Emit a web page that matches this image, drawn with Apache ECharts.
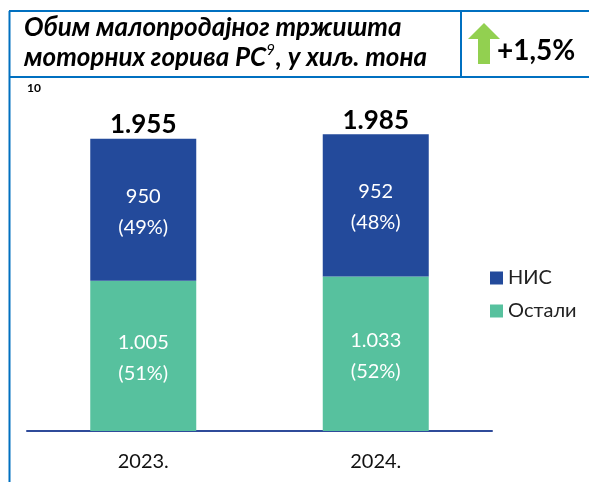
<!DOCTYPE html>
<html>
<head>
<meta charset="utf-8">
<script src="https://cdn.jsdelivr.net/npm/echarts@6/dist/echarts.min.js"></script>
<style>
  html, body { margin: 0; padding: 0; background: #fff; }
  #chart { width: 589px; height: 482px; }
</style>
</head>
<body>
<div id="chart"></div>
<script>
// data
const years = ["2023.", "2024."];
const nis = [950, 952];
const ostali = [1005, 1033];
const nisShare = [49, 48];
const ostaliShare = [51, 52];
const seriesNames = ["НИС", "Остали"];
const change = "+1,5%";

const FONT = "Lato, 'Noto Sans', sans-serif";
const BORDER = "#0070C0";

function fmt(n) {
  return String(n).replace(/\B(?=(\d{3})+(?!\d))/g, ".");
}

const chart = echarts.init(document.getElementById("chart"));

chart.setOption({
  backgroundColor: "#fff",
  animation: false,
  textStyle: { fontFamily: FONT },
  grid: { left: 27, right: 97, top: 102, bottom: 51 },
  legend: {
    data: seriesNames,
    orient: "vertical",
    left: 490,
    top: 268,
    padding: 0,
    itemWidth: 13,
    itemHeight: 13,
    itemGap: 13,
    icon: "rect",
    textStyle: { fontSize: 20, color: "#222", fontFamily: FONT }
  },
  xAxis: {
    type: "category",
    data: years,
    axisTick: { show: false },
    axisLine: { lineStyle: { color: "#2F4B9A", width: 2 } },
    axisLabel: { fontSize: 20, color: "#111", margin: 21, fontFamily: FONT }
  },
  yAxis: {
    type: "value",
    min: 0,
    max: 2200,
    show: false,
    splitLine: { show: false }
  },
  series: [
    {
      name: "Остали",
      type: "bar",
      stack: "total",
      barWidth: 106,
      data: ostali,
      itemStyle: { color: "#57C19E" },
      label: {
        show: true,
        position: "inside",
        color: "#fff",
        fontSize: 20,
        lineHeight: 31,
        fontFamily: FONT,
        offset: [0, 2],
        formatter: p => fmt(p.value) + "\n(" + ostaliShare[p.dataIndex] + "%)"
      }
    },
    {
      name: "НИС",
      type: "bar",
      stack: "total",
      barWidth: 106,
      data: nis,
      itemStyle: { color: "#234A9B" },
      label: {
        show: true,
        position: "inside",
        color: "#fff",
        fontSize: 20,
        lineHeight: 31,
        fontFamily: FONT,
        offset: [0, 2],
        formatter: p => fmt(p.value) + "\n(" + nisShare[p.dataIndex] + "%)"
      }
    },
    {
      // zero-height cap carrying the total above each stack
      name: "total",
      type: "bar",
      stack: "total",
      barWidth: 106,
      data: years.map(() => 0),
      itemStyle: { color: "transparent" },
      label: {
        show: true,
        position: "top",
        distance: 1,
        color: "#000",
        fontSize: 26,
        fontWeight: "bold",
        fontFamily: FONT,
        formatter: p => fmt(nis[p.dataIndex] + ostali[p.dataIndex])
      }
    }
  ],
  graphic: [
    { type: "line", shape: { x1: 9.5, y1: 11, x2: 9.5, y2: 482 }, style: { stroke: BORDER, lineWidth: 2 } },
    { type: "line", shape: { x1: 9, y1: 11, x2: 589, y2: 11 }, style: { stroke: BORDER, lineWidth: 2 } },
    { type: "line", shape: { x1: 9, y1: 77, x2: 589, y2: 77 }, style: { stroke: BORDER, lineWidth: 2 } },
    { type: "line", shape: { x1: 461, y1: 11, x2: 461, y2: 77 }, style: { stroke: BORDER, lineWidth: 2 } },
    {
      type: "text",
      left: 24,
      top: 15,
      style: {
        text: "{t|Обим малопродајног тржишта}\n{t|моторних горива РС}{s|9}{t|, у хиљ. тона}",
        rich: {
          t: { fontSize: 26, fontWeight: "bold", fontStyle: "italic", fontFamily: FONT, fill: "#000", lineHeight: 30 },
          s: { fontSize: 15, fontStyle: "italic", fontFamily: FONT, fill: "#000", verticalAlign: "top", lineHeight: 30, padding: [0, 1, 12, 0] }
        }
      }
    },
    {
      type: "polygon",
      shape: { points: [[468, 39], [484, 23], [500, 39], [490, 39], [490, 64], [478, 64], [478, 39]] },
      style: { fill: "#92D050" }
    },
    {
      type: "text",
      left: 497,
      top: 37,
      style: { text: change, fontSize: 28, fontWeight: "bold", fontFamily: FONT, fill: "#000" }
    },
    {
      type: "text",
      left: 27,
      top: 82,
      style: { text: "10", fontSize: 12, fontWeight: "bold", fontFamily: FONT, fill: "#000" }
    }
  ]
});
</script>
</body>
</html>
